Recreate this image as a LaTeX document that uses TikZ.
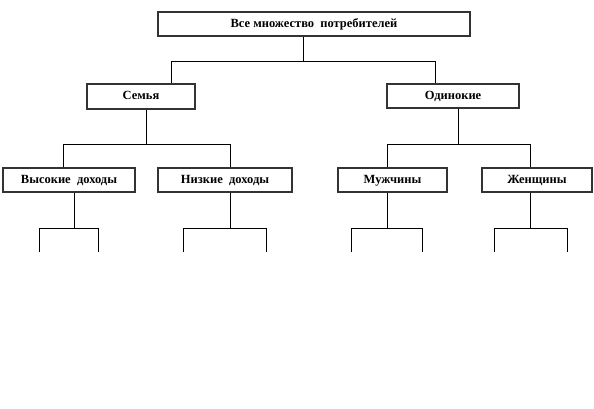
\documentclass[tikz,border=0pt]{standalone}
\usepackage{fontspec}
\setmainfont{Liberation Serif}
\begin{document}
\begin{tikzpicture}[x=1pt,y=-1pt,
  box/.style={draw=black!80,line width=1.2pt,fill=white,inner sep=0pt,
    text height=8.5pt,text depth=2.5pt,
    font=\bfseries\fontsize{12.5}{14}\selectfont},
  con/.style={draw=black,line width=0.7pt}]
\useasboundingbox (0,0) rectangle (594,408);
% boxes
\node[box,minimum width=312,minimum height=24] (all) at (314,24) {Все множество\ \ потребителей};
\node[box,minimum width=108,minimum height=25] (fam) at (141,96.5) {Семья};
\node[box,minimum width=132,minimum height=24] (sin) at (453,96) {Одинокие};
\node[box,minimum width=132,minimum height=24] (hi) at (69,180) {Высокие\ \ доходы};
\node[box,minimum width=134,minimum height=24] (lo) at (225,180) {Низкие\ \ доходы};
\node[box,minimum width=109,minimum height=24] (men) at (392.5,180) {Мужчины};
\node[box,minimum width=110,minimum height=24] (wom) at (537,180) {Женщины};
% level 1
\coordinate (j1) at (303,61);
\coordinate (l1) at (171,61);
\coordinate (r1) at (435,61);
\draw[con] (j1 |- all.south) -- (j1);
\draw[con] (l1 |- fam.north) -- (l1) -- (r1) -- (r1 |- sin.north);
% level 2 left
\coordinate (jf) at (146,144);
\coordinate (lf) at (63,144);
\coordinate (rf) at (230,144);
\draw[con] (jf |- fam.south) -- (jf);
\draw[con] (lf |- hi.north) -- (lf) -- (rf) -- (rf |- lo.north);
% level 2 right
\coordinate (js) at (458,144);
\coordinate (ls) at (387,144);
\coordinate (rs) at (530,144);
\draw[con] (js |- sin.south) -- (js);
\draw[con] (ls |- men.north) -- (ls) -- (rs) -- (rs |- wom.north);
% level 3 legs
\coordinate (jh) at (74,228);
\coordinate (lh) at (39,252);
\coordinate (rh) at (98,252);
\draw[con] (jh |- hi.south) -- (jh);
\draw[con] (lh) -- (lh |- jh) -- (rh |- jh) -- (rh);
\coordinate (jl) at (230,228);
\coordinate (ll) at (183,252);
\coordinate (rl) at (266,252);
\draw[con] (jl |- lo.south) -- (jl);
\draw[con] (ll) -- (ll |- jl) -- (rl |- jl) -- (rl);
\coordinate (jm) at (387,228);
\coordinate (lm) at (351,252);
\coordinate (rm) at (422,252);
\draw[con] (jm |- men.south) -- (jm);
\draw[con] (lm) -- (lm |- jm) -- (rm |- jm) -- (rm);
\coordinate (jw) at (530,228);
\coordinate (lw) at (494,252);
\coordinate (rw) at (567,252);
\draw[con] (jw |- wom.south) -- (jw);
\draw[con] (lw) -- (lw |- jw) -- (rw |- jw) -- (rw);
\end{tikzpicture}
\end{document}
